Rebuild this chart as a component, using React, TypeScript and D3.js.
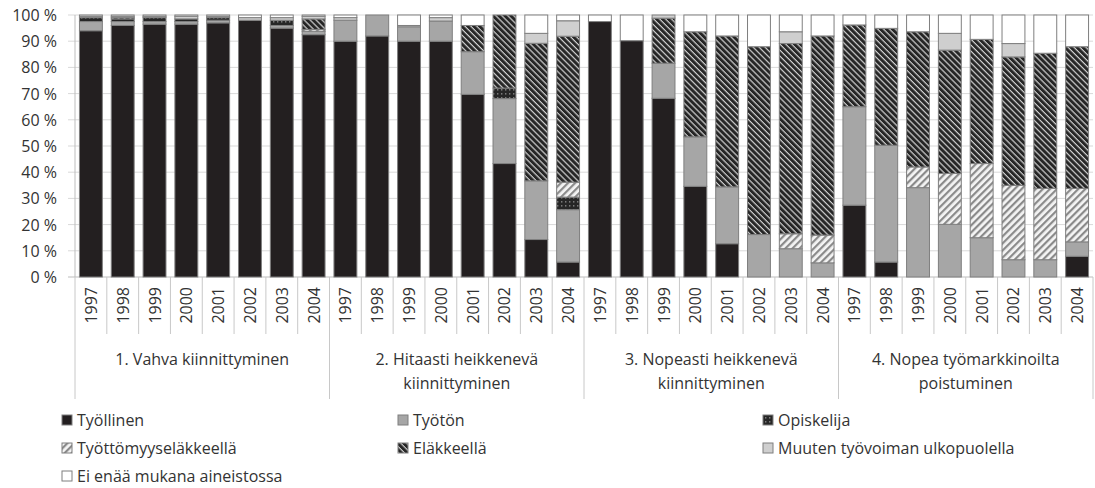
import React from "react";
import * as d3 from "d3";

const years = ["1997", "1998", "1999", "2000", "2001", "2002", "2003", "2004"];
const groups = [
  ["1. Vahva kiinnittyminen"],
  ["2. Hitaasti heikkenevä", "kiinnittyminen"],
  ["3. Nopeasti heikkenevä", "kiinnittyminen"],
  ["4. Nopea työmarkkinoilta", "poistuminen"],
];
const seriesNames = [
  "Työllinen",
  "Työtön",
  "Opiskelija",
  "Työttömyyseläkkeellä",
  "Eläkkeellä",
  "Muuten työvoiman ulkopuolella",
  "Ei enää mukana aineistossa",
];

// 32 bars: 4 groups x 8 years, values in %
const tyollinen = [
  94, 96, 96.5, 96.5, 97, 98, 95, 92.5,
  90, 92, 90, 90, 69.7, 43.3, 14.3, 5.7,
  97.5, 90.2, 68.2, 34.6, 12.7, 0, 0, 0,
  27.4, 5.7, 0, 0, 0, 0, 0, 7.9,
];
const tyoton = [
  3.5, 1.5, 1, 1, 1, 0, 1, 1.3,
  8, 8, 5.5, 7.7, 16.3, 24.8, 22.4, 20,
  0, 0, 13.4, 18.9, 21.7, 16.2, 10.8, 5.4,
  37.6, 44.6, 34.1, 20.1, 15, 6.6, 6.6, 5.5,
];
const opiskelija = [
  1.5, 1, 1.5, 1, 1, 0, 2, 0,
  0, 0, 0, 0, 0, 4, 0, 4.8,
  0, 0, 0, 0, 0, 0, 0, 0,
  0, 0, 0, 0, 0, 0, 0, 0,
];
const tyottomyyselake = [
  0, 0, 0, 0, 0, 0, 0, 0.7,
  0, 0, 0, 0, 0, 0, 0, 5.7,
  0, 0, 0, 0, 0, 0, 5.7, 10.6,
  0, 0, 7.9, 19.4, 28.3, 28.4, 27.2, 20.4,
];
const elakkeella = [
  0, 0.5, 0, 0, 0, 0, 0, 4,
  0, 0, 0, 0, 10, 27.9, 52.5, 55.7,
  0, 0, 17.2, 40.1, 57.6, 71.7, 72.6, 76,
  31.2, 44.6, 51.6, 47.1, 47.4, 49, 51.6, 54.1,
];
const muuten = [
  0.5, 0.5, 0.5, 1, 0.5, 1, 1, 1,
  1, 0, 0.5, 1.3, 0, 0, 3.8, 5.9,
  0, 0, 1.2, 0, 0, 0, 4.5, 0,
  0, 0, 0, 6.4, 0, 5.1, 0, 0,
];
const eiEnaa = [
  0.5, 0.5, 0.5, 0.5, 0.5, 1, 1, 0.5,
  1, 0, 4, 1, 4, 0, 7, 2.2,
  2.5, 9.8, 0, 6.4, 8, 12.1, 6.4, 8,
  3.8, 5.1, 6.4, 7, 9.3, 10.9, 14.6, 12.1,
];
const yTicks = [0, 10, 20, 30, 40, 50, 60, 70, 80, 90, 100];

const seriesValues = [tyollinen, tyoton, opiskelija, tyottomyyselake, elakkeella, muuten, eiEnaa];
const fills = [
  "#231f20",
  "#a6a6a6",
  "url(#pat-opisk)",
  "url(#pat-tte)",
  "url(#pat-elak)",
  "#cfcfcf",
  "#ffffff",
];

const W = 1095;
const H = 488;
const left = 75;
const right = 1093;
const top = 15;
const bottom = 277;
const font = "'Open Sans', 'DejaVu Sans', sans-serif";
const textColor = "#333333";
const fs = 16;

export default function App() {
  const n = groups.length * years.length;
  const rows = d3.range(n).map((i) => {
    const r: any = { i };
    seriesNames.forEach((s, k) => (r[s] = seriesValues[k][i]));
    return r;
  });
  const stacked = d3.stack().keys(seriesNames).offset(d3.stackOffsetExpand)(rows);

  const x = d3
    .scaleBand<number>()
    .domain(d3.range(n))
    .range([left, right])
    .paddingInner(0.28)
    .paddingOuter(0.14);
  const y = d3.scaleLinear().domain([0, 1]).range([bottom, top]);
  const step = x.step();
  const start = left;

  const groupLen = years.length;
  const legendCols = [62, 398, 763];
  const legendRows = [420, 448, 476];

  return (
    <svg
      width={W}
      height={H}
      style={{ position: "absolute", left: 0, top: 0, background: "#fff" }}
      fontFamily={font}
    >
      <defs>
        <pattern id="pat-opisk" width="4" height="4" patternUnits="userSpaceOnUse">
          <rect width="4" height="4" fill="#262626" />
          <rect x="1" y="1" width="1.4" height="1.6" fill="#7a7a7a" />
        </pattern>
        <pattern
          id="pat-tte"
          width="5"
          height="5"
          patternUnits="userSpaceOnUse"
          patternTransform="rotate(45)"
        >
          <rect width="5" height="5" fill="#f4f4f4" />
          <rect width="2.2" height="5" fill="#8a8a8a" />
        </pattern>
        <pattern
          id="pat-elak"
          width="4.2"
          height="4.2"
          patternUnits="userSpaceOnUse"
          patternTransform="rotate(-45)"
        >
          <rect width="4.2" height="4.2" fill="#d0d0d0" />
          <rect width="3" height="4.2" fill="#262626" />
        </pattern>
      </defs>

      {/* gridlines */}
      {yTicks.map((t) => (
        <line
          key={t}
          x1={left - 7}
          x2={right}
          y1={y(t / 100)}
          y2={y(t / 100)}
          stroke={t === 0 ? "#bdbdbd" : "#d9d9d9"}
          strokeWidth={1}
        />
      ))}
      {yTicks.map((t) => (
        <text
          key={"l" + t}
          x={57}
          y={y(t / 100)}
          textAnchor="end"
          dominantBaseline="central"
          fontSize={fs}
          fill={textColor}
        >
          {t} %
        </text>
      ))}

      {/* bars */}
      {stacked.map((layer, k) => (
        <g key={layer.key} fill={fills[k]} stroke="#7f7f7f" strokeWidth={1}>
          {layer.map((d, i) =>
            d[1] - d[0] > 0 ? (
              <rect
                key={i}
                x={x(i)}
                y={y(d[1])}
                width={x.bandwidth()}
                height={y(d[0]) - y(d[1])}
              />
            ) : null
          )}
        </g>
      ))}

      {/* category axis */}
      <line x1={left} x2={left} y1={top} y2={bottom} stroke="#bdbdbd" />
      {d3.range(n + 1).map((i) => {
        const gx = start + i * step;
        const isGroup = i % groupLen === 0;
        return (
          <line
            key={"s" + i}
            x1={gx}
            x2={gx}
            y1={bottom}
            y2={isGroup ? 399 : 334}
            stroke="#c8c8c8"
          />
        );
      })}
      {d3.range(n).map((i) => {
        const cx = (x(i) as number) + x.bandwidth() / 2;
        return (
          <text
            key={"y" + i}
            transform={`translate(${cx},287) rotate(-90)`}
            textAnchor="end"
            dominantBaseline="central"
            fontSize={fs}
            fill={textColor}
          >
            {years[i % groupLen]}
          </text>
        );
      })}
      {groups.map((lines, g) => {
        const cx = start + (g * groupLen + groupLen / 2) * step;
        return (
          <text key={"g" + g} textAnchor="middle" fontSize={fs} fill={textColor}>
            {lines.map((l, j) => (
              <tspan key={j} x={cx} y={365 + j * 24}>
                {l}
              </tspan>
            ))}
          </text>
        );
      })}

      {/* legend */}
      {seriesNames.map((s, k) => {
        const lx = legendCols[k % 3];
        const ly = legendRows[Math.floor(k / 3)];
        return (
          <g key={"lg" + s}>
            <rect
              x={lx}
              y={ly - 5}
              width={10}
              height={10}
              fill={fills[k]}
              stroke="#7f7f7f"
            />
            <text
              x={lx + 15}
              y={ly}
              dominantBaseline="central"
              fontSize={fs}
              fill={textColor}
            >
              {s}
            </text>
          </g>
        );
      })}
    </svg>
  );
}
